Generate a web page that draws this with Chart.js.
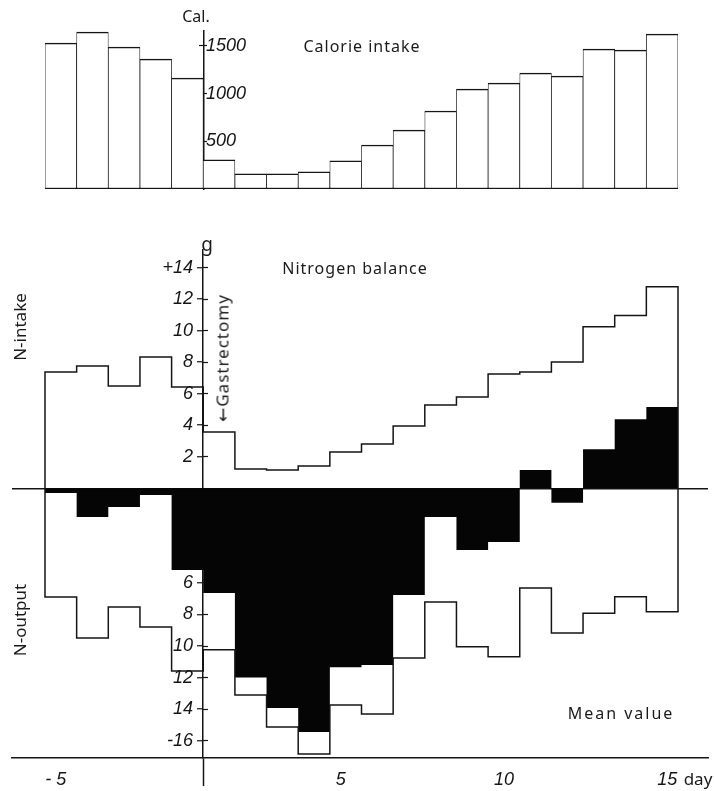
<!DOCTYPE html>
<html><head><meta charset="utf-8">
<script src="https://cdn.jsdelivr.net/npm/chart.js@4.4.1/dist/chart.umd.min.js"></script>
<style>
html,body{margin:0;padding:0;background:#fff;}
#wrap{position:relative;width:714px;height:791px;overflow:hidden;background:#fff;}
canvas{position:absolute;left:0;}
#c1{top:0}
#c2{top:200px}
.t{position:absolute;font-family:"Noto Sans","DejaVu Sans",sans-serif;color:#1a1a1a;white-space:nowrap;transform:translate(-50%,-50%);line-height:1;}
.v{transform:translate(-50%,-50%) rotate(-90deg);}
</style></head><body>
<div id="wrap">
<canvas id="c1" width="714" height="200"></canvas>
<canvas id="c2" width="714" height="591"></canvas>
<div class="t" style="left:196px;top:16px;font-size:16px">Cal.</div>
<div class="t" style="left:362px;top:46px;font-size:16px;letter-spacing:1px">Calorie intake</div>
<div class="t" style="left:207px;top:244px;font-size:19px">g</div>
<div class="t" style="left:355px;top:268px;font-size:16px;letter-spacing:1px">Nitrogen balance</div>
<div class="t v" style="left:19px;top:327px;font-size:17px">N-intake</div>
<div class="t v" style="left:19px;top:620px;font-size:17px">N-output</div>
<div class="t v" style="left:222px;top:358px;font-size:17px;letter-spacing:1px">←Gastrectomy</div>
<div class="t" style="left:621px;top:713px;font-size:16px;letter-spacing:2px">Mean value</div>
<div class="t" style="left:698px;top:778px;font-size:17px">day</div>
</div>
<script>
// ---------- data ----------
const days = [-5,-4,-3,-2,-1,1,2,3,4,5,6,7,8,9,10,11,12,13,14,15];
const calories = [1530,1645,1488,1362,1163,305,160,160,180,295,461,618,818,1048,1111,1216,1184,1467,1457,1625];
const nIntake  = [7.37,7.76,6.49,8.33,6.42,3.57,1.22,1.16,1.41,2.30,2.81,3.95,5.28,5.79,7.25,7.37,8.01,10.24,10.96,12.78];
const nOutput  = [6.89,9.49,7.53,8.80,11.59,10.24,13.10,15.13,16.84,13.74,14.31,10.76,7.21,10.04,10.68,6.32,9.17,7.92,6.88,7.83];
const nBalance = [-0.30,-1.82,-1.19,-0.42,-5.18,-6.64,-12.0,-13.93,-15.45,-11.35,-11.2,-6.77,-1.82,-3.91,-3.40,1.16,-0.92,2.48,4.38,5.16];
const calTicks = [500,1000,1500];
const calTickLabels = ['500','1000','1500'];
const nTicks = [-16,-14,-12,-10,-8,-6,-4,-2,0,2,4,6,8,10,12,14];
const nTickLabels = ['-16','14','12','10','8','6','4','2','','2','4','6','8','10','12','+14'];
const xTickDays = [-5,5,10,15];
const xTickLabels = ['- 5  ','5  ','10','  15'];

// ---------- geometry helpers ----------
const leftEdge = d => (d < 0 ? d : d - 1);   // no day-0 column: pre days then post days
const center = d => leftEdge(d) + 0.5;
const PX_PER_DAY = (678 - 45) / 20;
const X_MIN = -5 - (45 - 12) / PX_PER_DAY;
const X_MAX = 15 + (708 - 678) / PX_PER_DAY;
const INK = '#151515';
const tickFont = {family:'"Liberation Sans", Arial, sans-serif', size:18, style:'italic'};
const zeroW = s => { s.width = 0; s.paddingTop = 0; s.paddingBottom = 0; };
const setTicks = vals => s => { s.ticks = vals.map(v => ({value:v})); };

// width of the widest N tick label, so the right-aligned labels end just left of the axis
const mctx = document.createElement('canvas').getContext('2d');
mctx.font = 'italic 18px "Liberation Sans", Arial, sans-serif';
const nWidest = Math.max(...nTickLabels.map(l => mctx.measureText(l).width));
const N_LABEL_RIGHT = 193;

function stepPoints(vals, sign, closeToZero){
  const pts = [];
  if (closeToZero) pts.push({x:leftEdge(days[0]), y:0});
  days.forEach((d,i) => pts.push({x:leftEdge(d), y:sign*vals[i]}));
  const endX = leftEdge(days[days.length-1]) + 1;
  pts.push({x:endX, y:sign*vals[vals.length-1]});
  if (closeToZero) pts.push({x:endX, y:0});
  return pts;
}

// ---------- top: calorie intake ----------
const CAL_MAX = 1657;
new Chart(document.getElementById('c1'), {
  type:'bar',
  data:{datasets:[{
    label:'Calorie intake',
    xAxisID:'x', yAxisID:'y',
    data: days.map((d,i) => ({x:center(d), y:calories[i]})),
    backgroundColor:'#fff', borderColor:INK,
    borderWidth:{top:1.5,bottom:1.5,left:0.75,right:0.75},
    borderSkipped:false, barPercentage:1, categoryPercentage:1
  }]},
  options:{
    responsive:false, animation:false, devicePixelRatio:1,
    layout:{padding:{left:45,right:36,top:31,bottom:11}},
    plugins:{legend:{display:false}, tooltip:{enabled:false}},
    scales:{
      x:{type:'linear', min:-5, max:15, offset:false, display:false, afterBuildTicks:setTicks([-5,0,15])},
      y:{type:'linear', position:{x:0}, min:0, max:CAL_MAX, bounds:'data',
         border:{display:true,color:INK,width:1.5},
         grid:{drawOnChartArea:false, drawTicks:true, tickLength:4, color:INK, tickColor:INK, tickWidth:1.2},
         ticks:{display:false}, afterBuildTicks:setTicks(calTicks), afterFit:zeroW},
      y2:{type:'linear', position:{x:0}, min:0, max:CAL_MAX, bounds:'data',
         border:{display:false},
         grid:{drawOnChartArea:false, drawTicks:true, tickLength:-4, color:INK, tickColor:INK, tickWidth:1.2},
         ticks:{display:false}, afterBuildTicks:setTicks(calTicks), afterFit:zeroW},
      yl:{type:'linear', position:'left', min:0, max:CAL_MAX, bounds:'data',
         border:{display:false}, grid:{display:false, drawTicks:false},
         ticks:{mirror:true, padding:161, font:tickFont, color:INK, autoSkip:false,
                callback:v => calTickLabels[calTicks.indexOf(v)]},
         afterBuildTicks:setTicks(calTicks), afterFit:zeroW}
    }
  }
});

// ---------- bottom: nitrogen balance ----------
const N_MIN = -17.10, N_MAX = 15.11;
new Chart(document.getElementById('c2'), {
  type:'line',
  data:{datasets:[
    {label:'N-intake', data:stepPoints(nIntake, 1, true), stepped:true,
     borderColor:INK, borderWidth:1.5, pointRadius:0, fill:false},
    {label:'N-output', data:stepPoints(nOutput, -1, true), stepped:true,
     borderColor:INK, borderWidth:1.5, pointRadius:0, fill:false},
    {label:'N-balance', data:stepPoints(nBalance, 1, false), stepped:true,
     borderColor:'#050505', borderWidth:0, backgroundColor:'#050505', fill:'origin', pointRadius:0}
  ]},
  options:{
    responsive:false, animation:false, devicePixelRatio:1,
    layout:{padding:{left:12,right:6,top:50,bottom:0}},
    plugins:{legend:{display:false}, tooltip:{enabled:false}},
    scales:{
      x:{type:'linear', min:X_MIN, max:X_MAX, position:'bottom', offset:false,
         border:{display:true,color:INK,width:1.5},
         grid:{drawOnChartArea:false, drawTicks:true, tickLength:28, tickWidth:1.5,
               tickColor:c => (c.tick && c.tick.value === 0 ? INK : 'rgba(0,0,0,0)')},
         ticks:{font:tickFont, color:INK, padding:-17, autoSkip:false, maxRotation:0,
                callback:v => { const i = xTickDays.map(center).indexOf(v); return i < 0 ? '' : xTickLabels[i]; }},
         afterBuildTicks:setTicks([center(xTickDays[0]), 0, ...xTickDays.slice(1).map(center)]),
         afterFit:s => { s.height = 33; s.paddingLeft = 0; s.paddingRight = 0; }},
      y:{type:'linear', position:{x:0}, min:N_MIN, max:N_MAX, bounds:'data',
         border:{display:true,color:INK,width:1.5},
         grid:{drawOnChartArea:true, drawTicks:true, tickLength:5, tickWidth:1.2, tickColor:INK, lineWidth:1.5,
               color:c => (c.tick && c.tick.value === 0 ? INK : 'rgba(0,0,0,0)')},
         ticks:{display:false}, afterBuildTicks:setTicks(nTicks), afterFit:zeroW},
      y2:{type:'linear', position:{x:0}, min:N_MIN, max:N_MAX, bounds:'data',
         border:{display:false},
         grid:{drawOnChartArea:false, drawTicks:true, tickLength:-5, tickWidth:1.2, tickColor:INK, color:INK},
         ticks:{display:false}, afterBuildTicks:setTicks(nTicks.filter(v => v !== 0)), afterFit:zeroW},
      yl:{type:'linear', position:'left', min:N_MIN, max:N_MAX, bounds:'data',
         border:{display:false}, grid:{display:false, drawTicks:false},
         ticks:{mirror:true, crossAlign:'far', padding:N_LABEL_RIGHT - 12 - nWidest,
                font:tickFont, color:INK, autoSkip:false,
                callback:v => nTickLabels[nTicks.indexOf(v)]},
         afterBuildTicks:setTicks(nTicks), afterFit:zeroW}
    }
  }
});
</script>
</body></html>
